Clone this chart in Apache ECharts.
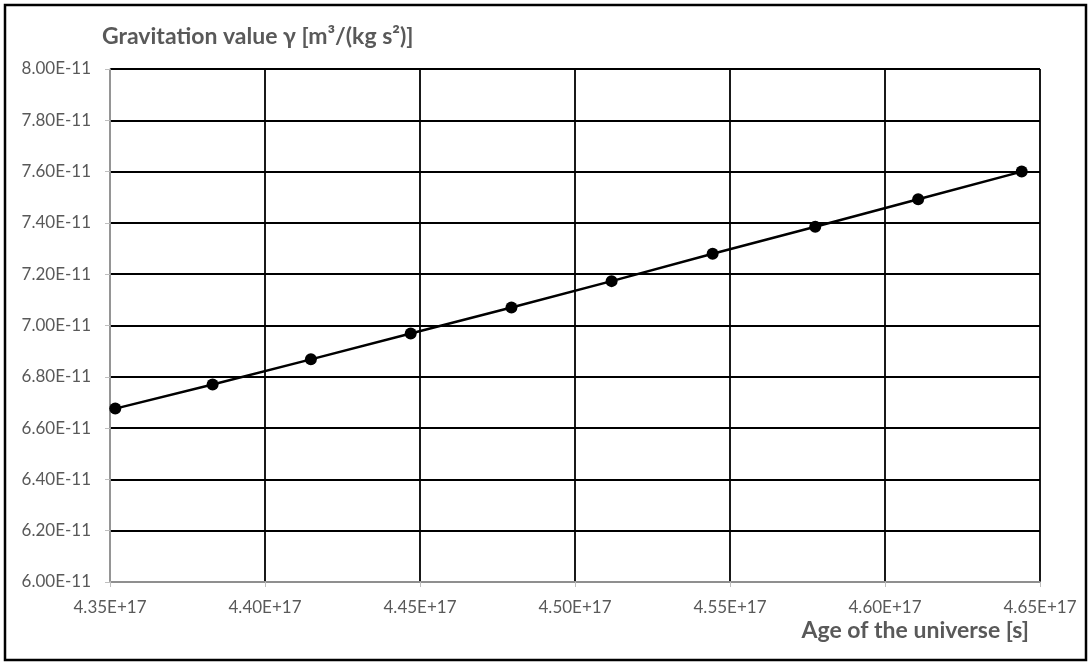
<!DOCTYPE html>
<html>
<head>
<meta charset="utf-8">
<script src="https://cdn.jsdelivr.net/npm/echarts@6/dist/echarts.min.js"></script>
<style>
  html, body { margin: 0; padding: 0; background: #fff; }
  #chart { width: 1091px; height: 664px; }
</style>
</head>
<body>
<div id="chart"></div>
<script>
// age of the universe, in units of 1E+17 s
var ageValues = [4.3517, 4.3831, 4.4148, 4.4470, 4.4795, 4.5118, 4.5444, 4.5775, 4.6107, 4.6441]
// gravitation value, in units of 1E-11 m3/(kg s2)
var gammaValues = [6.676, 6.770, 6.868, 6.969, 7.070, 7.173, 7.280, 7.385, 7.492, 7.600]

var xExp = 'E+17'
var yExp = 'E-11'

var points = ageValues.map(function (a, i) { return [a, gammaValues[i]] })

var chart = echarts.init(document.getElementById('chart'))
var labelGray = '#595959'
var font = 'Lato, "Open Sans", sans-serif'

chart.setOption({
  animation: false,
  backgroundColor: '#fff',
  title: [
    {
      text: 'Gravitation value γ [m³/(kg s²)]',
      left: 97,
      top: 20,
      textStyle: { color: labelGray, fontFamily: font, fontWeight: 'bold', fontSize: 23 }
    },
    {
      text: 'Age of the universe [s]',
      right: 57,
      top: 614,
      textStyle: { color: labelGray, fontFamily: font, fontWeight: 'bold', fontSize: 23 }
    }
  ],
  // 外框
  graphic: [{
    type: 'rect',
    shape: { x: 5, y: 5, width: 1081, height: 655 },
    style: { fill: 'none', stroke: '#000', lineWidth: 2.5 }
  }],
  grid: {
    left: 110,
    right: 51,
    top: 69,
    bottom: 82
  },
  xAxis: {
    type: 'value',
    min: 4.35,
    max: 4.65,
    interval: 0.05,
    axisLine: { show: true, lineStyle: { color: '#bfbfbf', width: 1.5 } },
    axisTick: { show: true, length: 5, lineStyle: { color: '#bfbfbf' } },
    axisLabel: {
      color: labelGray, fontFamily: font, fontSize: 17, margin: 17,
      formatter: function (v) { return v.toFixed(2) + xExp }
    },
    splitLine: { show: true, lineStyle: { color: '#000', width: 1.8 } }
  },
  yAxis: {
    type: 'value',
    min: 6.0,
    max: 8.0,
    interval: 0.2,
    axisLine: { show: true, lineStyle: { color: '#bfbfbf', width: 1.5 } },
    axisTick: { show: true, length: 5, lineStyle: { color: '#bfbfbf' } },
    axisLabel: {
      color: labelGray, fontFamily: font, fontSize: 17, margin: 19,
      formatter: function (v) { return v.toFixed(2) + yExp }
    },
    splitLine: { show: true, lineStyle: { color: '#000', width: 1.8 } }
  },
  series: [{
    type: 'line',
    data: points,
    symbol: 'circle',
    symbolSize: 12,
    itemStyle: { color: '#000' },
    lineStyle: { color: '#000', width: 2.5 },
    z: 5
  }]
})
</script>
</body>
</html>
